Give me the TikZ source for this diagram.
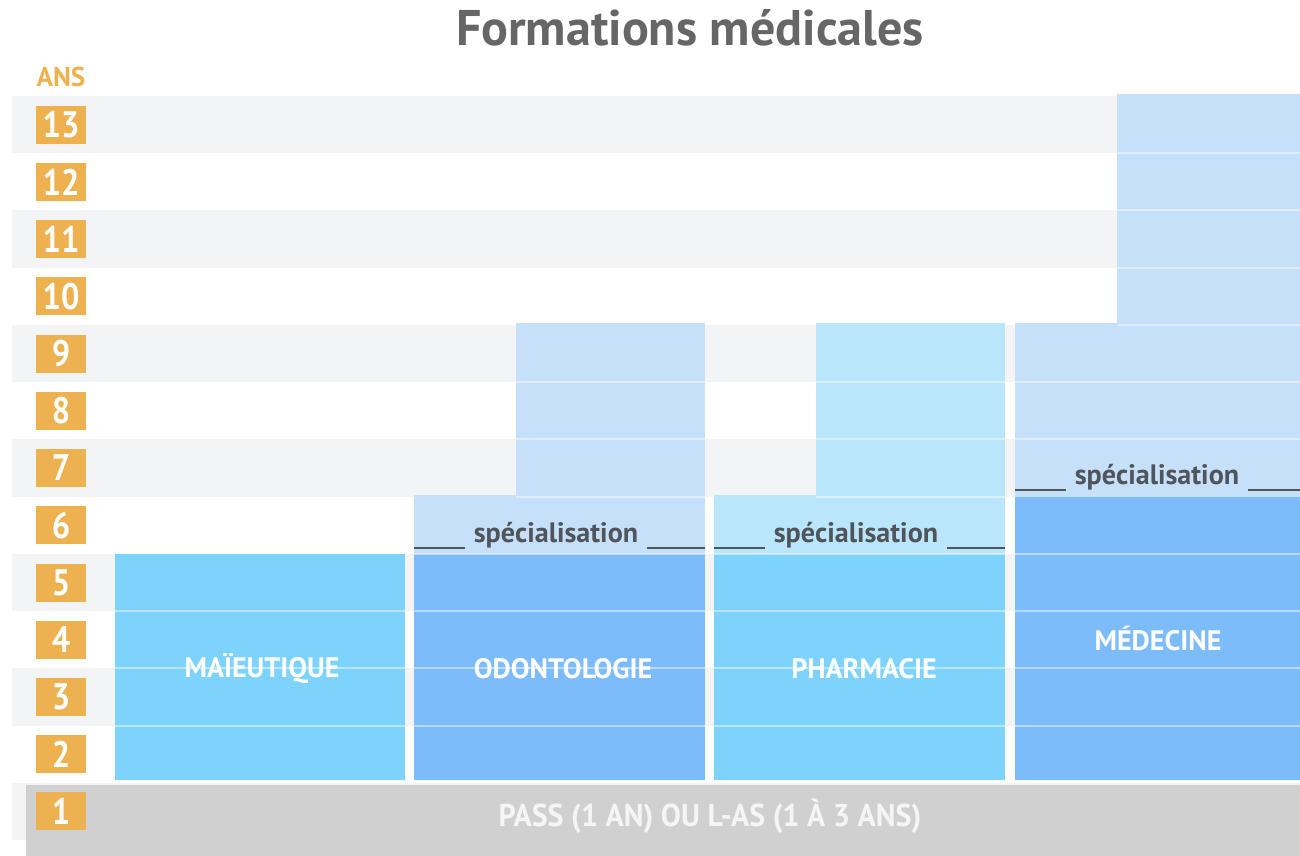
\documentclass[tikz,border=0pt]{standalone}
\usepackage{fontspec}
\setmainfont{PT Sans}
\definecolor{bandgray}{HTML}{F3F4F6}
\definecolor{ansorange}{HTML}{EDB24F}
\definecolor{cyanblock}{HTML}{7DD3FC}
\definecolor{blueblock}{HTML}{7DBCFA}
\definecolor{lightblue}{HTML}{C7E0FA}
\definecolor{lightcyan}{HTML}{BAE6FB}
\definecolor{passgray}{HTML}{D0D0D0}
\definecolor{spegray}{HTML}{50555C}
\definecolor{titlegray}{HTML}{666666}
\newcommand{\narrowtext}[1]{\scalebox{0.88}[1]{#1}}
\tikzset{
  yearbox/.style={fill=ansorange, text=white, minimum width=1cm, minimum height=0.76cm,
    inner sep=0pt, font=\bfseries\fontsize{21}{21}\selectfont},
  blocklabel/.style={text=white, inner sep=2pt, font=\bfseries\fontsize{16}{16}\selectfont},
  spelabel/.style={text=spegray, inner xsep=5pt, inner ysep=0pt, font=\bfseries\fontsize{16}{16}\selectfont},
  speline/.style={draw=spegray, line width=1.1pt},
  sepline/.style={draw=white, draw opacity=0.45, line width=1.1pt}
}
\begin{document}
\begin{tikzpicture}[x=0.02cm, y=1.145cm]
\useasboundingbox (0,-0.275) rectangle (1300,14.677);
% bands
\foreach \k in {1,3,...,13}
  \fill[bandgray] (12,\k-1) rectangle (1300,\k);
\fill[passgray] (26,-0.275) rectangle (1300,0.965); % PASS
% blocks
\fill[cyanblock] (115,1.05) rectangle (405,5); % maieutique
\fill[blueblock] (414,1.05) rectangle (705,5); % odontologie
\fill[lightblue] (414,5) rectangle (705,6.03);
\fill[lightblue] (516,6) rectangle (705,9.03);
\fill[cyanblock] (714,1.05) rectangle (1005,5); % pharmacie
\fill[lightcyan] (714,5) rectangle (1005,6.03);
\fill[lightcyan] (816,6) rectangle (1005,9.03);
\fill[blueblock] (1015,1.05) rectangle (1300,6); % medecine
\fill[lightblue] (1015,6) rectangle (1300,9.03);
\fill[lightblue] (1117,9) rectangle (1300,13.03);
% row lines
\foreach \y in {2,3,4} {
  \draw[sepline] (115,\y) -- (405,\y);
  \draw[sepline] (414,\y) -- (705,\y);
  \draw[sepline] (714,\y) -- (1005,\y);
}
\foreach \y in {2,3,4,5}
  \draw[sepline] (1015,\y) -- (1300,\y);
\draw[sepline] (414,5) -- (705,5);
\draw[sepline] (714,5) -- (1005,5);
\foreach \y in {6,7,8} {
  \draw[sepline] (516,\y) -- (705,\y);
  \draw[sepline] (816,\y) -- (1005,\y);
}
\foreach \y in {7,8}
  \draw[sepline] (1015,\y) -- (1300,\y);
\foreach \y in {9,10,11,12}
  \draw[sepline] (1117,\y) -- (1300,\y);
% labels
\node[blocklabel] (maieutique) at (262,3) {MAÏEUTIQUE};
\node[blocklabel] (odontologie) at (563,3) {ODONTOLOGIE};
\node[blocklabel] (pharmacie) at (864,3) {PHARMACIE};
\node[blocklabel] (medecine) at (1158,3.53) {MÉDECINE};
\node[blocklabel, text=white!96!black, font=\bfseries\fontsize{18}{18}\selectfont]
  (pass) at (710,0.41) {\scalebox{0.95}[1]{PASS (1 AN) OU L-AS (1 À 3 ANS)}};
% specialisation
\node[spelabel] (speOdonto) at (556,5.33) {spécialisation};
\node[spelabel] (spePharma) at (856,5.33) {spécialisation};
\node[spelabel] (speMed) at (1157,6.34) {spécialisation};
\coordinate (odontoL) at (414,5.1);
\coordinate (odontoR) at (705,5.1);
\coordinate (pharmaL) at (714,5.1);
\coordinate (pharmaR) at (1005,5.1);
\coordinate (medL) at (1015,6.12);
\coordinate (medR) at (1300,6.12);
\draw[speline] (odontoL) -- (odontoL -| speOdonto.west);
\draw[speline] (odontoR) -- (odontoR -| speOdonto.east);
\draw[speline] (pharmaL) -- (pharmaL -| spePharma.west);
\draw[speline] (pharmaR) -- (pharmaR -| spePharma.east);
\draw[speline] (medL) -- (medL -| speMed.west);
\draw[speline] (medR) -- (medR -| speMed.east);
% years
\foreach \k in {1,...,13}
  \node[yearbox] (an\k) at (61,\k-0.5) {\narrowtext{\k}};
\node[text=ansorange, font=\bfseries\fontsize{15.5}{15.5}\selectfont] (ans) at (61,13.33) {ANS};
\node[text=titlegray, font=\bfseries\fontsize{28.5}{28.5}\selectfont] (titre) at (690,14.19) {Formations médicales};
\end{tikzpicture}
\end{document}
